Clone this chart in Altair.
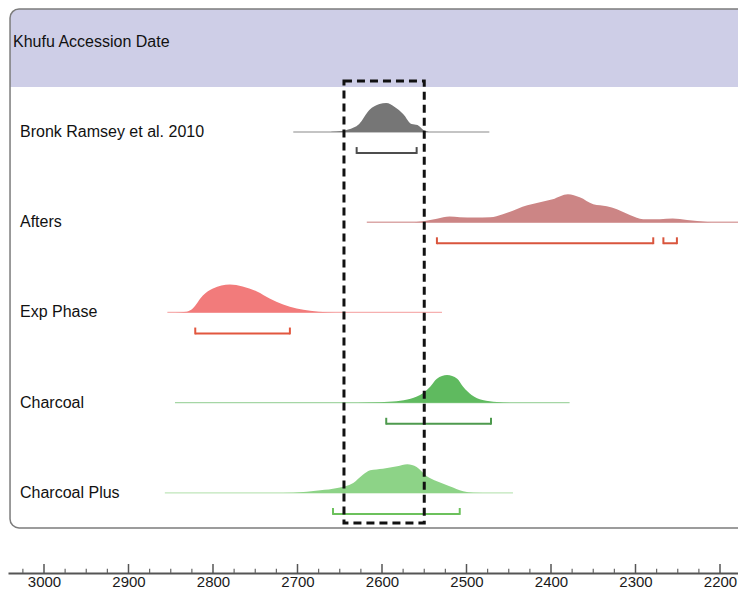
import altair as alt
import pandas as pd

# ---------------- data ----------------
rows = ["Bronk Ramsey et al. 2010", "Afters", "Exp Phase", "Charcoal", "Charcoal Plus"]
area_colors = ["#767676", "#cc8585", "#f27b7b", "#5fba5f", "#8dd387"]
line_colors = ["#b0b0b0", "#dba8a8", "#f6b0b0", "#a5d6a5", "#bfe6ba"]
bracket_colors = ["#4d4d4d", "#d9553d", "#e2573f", "#4e9a4e", "#6cc15c"]

# probability curves: calendar years BC and relative density
bronk_years = [2660, 2648, 2640, 2627, 2615, 2603, 2595, 2585, 2575, 2565, 2558, 2551, 2545]
bronk_dens = [0.3, 1, 2.5, 8, 22, 28, 29, 25, 18, 8, 7, 2, 0.3]

afters_years = [2562, 2551, 2535, 2520, 2508, 2490, 2472, 2457, 2428, 2413, 2398, 2380,
                2366, 2350, 2334, 2322, 2306, 2291, 2271, 2256, 2239, 2215, 2206]
afters_dens = [0, 1, 3.5, 5.7, 5, 4.8, 5, 8, 17, 20, 23, 28,
               25, 18, 16, 13, 7, 3, 3, 3.7, 2.3, 0.3, 0]

exp_years = [2845, 2831, 2824, 2812, 2800, 2780, 2765, 2748, 2733, 2717, 2701, 2685, 2665, 2645]
exp_dens = [0, 0.8, 4, 17, 24, 28, 26, 21, 14, 8, 4, 1.7, 0.3, 0]

char_years = [2640, 2618, 2587, 2570, 2555, 2543, 2535, 2523, 2511, 2504, 2494, 2481, 2464, 2449]
char_dens = [0, 0.3, 1.3, 3.3, 7.7, 16, 24, 27.7, 24, 16, 7.7, 2.7, 0.7, 0]

plus_years = [2730, 2705, 2673, 2653, 2634, 2623, 2614, 2599, 2582, 2570, 2559, 2547,
              2535, 2520, 2504, 2492, 2470]
plus_dens = [0, 0.3, 2.7, 5, 10, 18, 22.7, 24.3, 26.7, 28.7, 26, 16.7,
             11.7, 6.7, 1.7, 0.3, 0]

# extent of each thin baseline
line_start = [2705, 2618, 2854, 2845, 2857]
line_end = [2473, 2150, 2529, 2378, 2445]

# 95% ranges (brackets)
range_row = [0, 1, 1, 2, 3, 4]
range_lo = [2630, 2535, 2267, 2821, 2595, 2658]
range_hi = [2559, 2279, 2251, 2709, 2471, 2508]

# highlighted accession window
window = [2645, 2550]

major_ticks = [2200, 2300, 2400, 2500, 2600, 2700, 2800, 2900, 3000]
minor_ticks = [2225, 2250, 2275, 2325, 2350, 2375, 2425, 2450, 2475, 2525, 2550,
               2575, 2625, 2650, 2675, 2725, 2750, 2775, 2825, 2850, 2875, 2925, 2950,
               2975, 3025]

# ---------------- tables ----------------
curves = [(bronk_years, bronk_dens), (afters_years, afters_dens), (exp_years, exp_dens),
          (char_years, char_dens), (plus_years, plus_dens)]
recs = []
for i, (ys, ds) in enumerate(curves):
    for y, d in zip(ys, ds):
        recs.append({"series": rows[i], "row": i, "year": y, "dens": d})
dens_df = pd.DataFrame(recs)

lines_df = pd.DataFrame({"series": rows, "row": list(range(5)), "start": line_start,
                         "end": line_end, "color": line_colors})
labels_df = pd.DataFrame({"series": rows, "row": list(range(5))})
br_df = pd.DataFrame({"row": range_row, "lo": range_lo, "hi": range_hi,
                      "color": [bracket_colors[r] for r in range_row]})
ends = []
for r, lo, hi in zip(range_row, range_lo, range_hi):
    ends.append({"row": r, "year": lo, "color": bracket_colors[r]})
    ends.append({"row": r, "year": hi, "color": bracket_colors[r]})
ends_df = pd.DataFrame(ends)
win_df = pd.DataFrame({"start": [window[0]], "end": [window[1]]})
maj_df = pd.DataFrame({"year": major_ticks})
min_df = pd.DataFrame({"year": minor_ticks})
one = pd.DataFrame({"k": [0]})

# ---------------- scales ----------------
Y_BOTTOM = 4.887
xs = alt.Scale(domain=[2178.7, 3042.6], reverse=True, nice=False, zero=False)
ys_ = alt.Scale(domain=[-1.374, Y_BOTTOM], reverse=True, nice=False, zero=False)
xaxis = alt.Axis(values=major_ticks, format="d", ticks=False, grid=False, domainColor="#555555",
                 domainWidth=2, labelFontSize=15, labelFont="Liberation Sans", labelColor="#1a1a1a",
                 labelPadding=1, title=None, labelFlush=False)

DU = 1 / 90.25  # row units per density unit
BR = 0.233      # bracket offset below baseline

band = alt.Chart(one).mark_rect(fill="#cecee7", cornerRadiusTopLeft=9, cornerRadiusTopRight=9).encode(
    x=alt.X(datum=3040.2, scale=xs, axis=xaxis), x2=alt.datum(2150),
    y=alt.Y(datum=-1.363, scale=ys_, axis=None), y2=alt.datum(-0.4986))

box = alt.Chart(one).mark_rect(fill="transparent", stroke="#7c7c7c", strokeWidth=1.5, cornerRadius=9).encode(
    x=alt.X(datum=3040.2, scale=xs, axis=xaxis), x2=alt.datum(2150),
    y=alt.Y(datum=-1.363, scale=ys_, axis=None), y2=alt.datum(4.388))

base = alt.Chart(lines_df).mark_rule(strokeWidth=1.3).encode(
    x=alt.X("start:Q", scale=xs, axis=xaxis), x2="end:Q",
    y=alt.Y("row:Q", scale=ys_, axis=None),
    color=alt.Color("color:N", scale=None))

area = alt.Chart(dens_df).transform_calculate(top=f"datum.row - datum.dens * {DU}").mark_area(
    interpolate="monotone").encode(
    x=alt.X("year:Q", scale=xs, axis=xaxis),
    y=alt.Y("top:Q", scale=ys_, axis=None), y2="row:Q",
    color=alt.Color("series:N", scale=alt.Scale(domain=rows, range=area_colors), legend=None))

br_h = alt.Chart(br_df).transform_calculate(yb=f"datum.row + {BR}").mark_rule(strokeWidth=2).encode(
    x=alt.X("lo:Q", scale=xs, axis=xaxis), x2="hi:Q",
    y=alt.Y("yb:Q", scale=ys_, axis=None),
    color=alt.Color("color:N", scale=None))

br_v = alt.Chart(ends_df).transform_calculate(
    yb=f"datum.row + {BR} + 0.01", yt=f"datum.row + {BR} - 0.066").mark_rule(strokeWidth=2).encode(
    x=alt.X("year:Q", scale=xs, axis=xaxis),
    y=alt.Y("yb:Q", scale=ys_, axis=None), y2="yt:Q",
    color=alt.Color("color:N", scale=None))

labels = alt.Chart(labels_df).mark_text(align="left", baseline="middle", fontSize=16,
                                        font="Liberation Sans", color="#111111").encode(
    x=alt.value(12), y=alt.Y("row:Q", scale=ys_, axis=None), text="series:N")

title = alt.Chart(one).mark_text(align="left", baseline="middle", fontSize=16,
                                 font="Liberation Sans", color="#111111",
                                 text="Khufu Accession Date").encode(
    x=alt.value(5), y=alt.Y(datum=-0.997, scale=ys_, axis=None))

win = alt.Chart(win_df).mark_rect(fill="transparent", stroke="#111111", strokeWidth=3,
                                  strokeDash=[8, 5]).encode(
    x=alt.X("start:Q", scale=xs, axis=xaxis), x2="end:Q",
    y=alt.Y(datum=-0.565, scale=ys_, axis=None), y2=alt.datum(4.332))

maj = alt.Chart(maj_df).mark_rule(strokeWidth=1.5, color="#555555").encode(
    x=alt.X("year:Q", scale=xs, axis=xaxis),
    y=alt.Y(datum=Y_BOTTOM, scale=ys_, axis=None), y2=alt.datum(Y_BOTTOM - 0.1))

mnr = alt.Chart(min_df).mark_rule(strokeWidth=1.2, color="#666666").encode(
    x=alt.X("year:Q", scale=xs, axis=xaxis),
    y=alt.Y(datum=Y_BOTTOM, scale=ys_, axis=None), y2=alt.datum(Y_BOTTOM - 0.047))

chart = alt.layer(band, box, base, area, br_h, br_v, labels, title, win, maj, mnr).properties(
    width=730, height=565,
    autosize=alt.AutoSizeParams(type="none"),
    padding={"left": 0, "top": 0, "right": 0, "bottom": 15},
).configure_view(stroke=None)

chart.save("out.html", embed_options={"renderer": "svg", "actions": False})
